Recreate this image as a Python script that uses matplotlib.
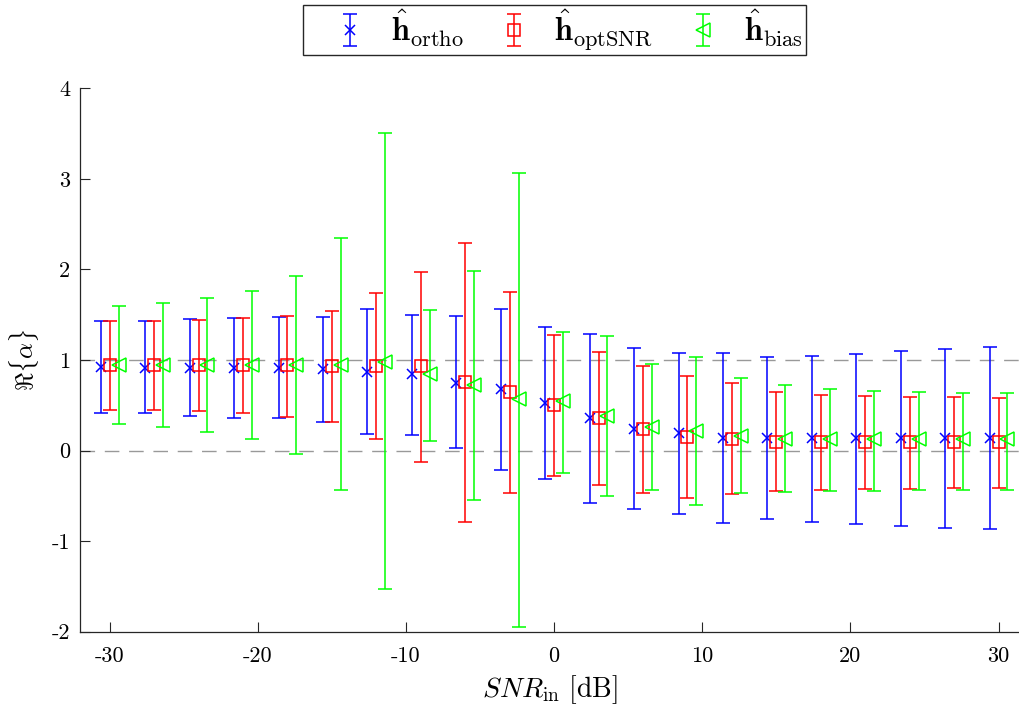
import numpy as np
import matplotlib
matplotlib.use("Agg")
import matplotlib.pyplot as plt

plt.rcParams['font.family'] = ['cmr10', 'DejaVu Serif']
plt.rcParams['mathtext.fontset'] = 'cm'
plt.rcParams['axes.unicode_minus'] = False

snr = [-30, -27, -24, -21, -18, -15, -12, -9, -6, -3, 0, 3, 6, 9, 12, 15, 18, 21, 24, 27, 30]

ortho_mean = [0.92, 0.915, 0.915, 0.91, 0.91, 0.90, 0.865, 0.84, 0.75, 0.675, 0.53, 0.355, 0.24, 0.19, 0.14,
              0.14, 0.135, 0.135, 0.135, 0.135, 0.135]
ortho_upper = [1.43, 1.43, 1.45, 1.465, 1.47, 1.48, 1.56, 1.495, 1.49, 1.56, 1.365, 1.29, 1.13, 1.077, 1.077,
               1.033, 1.044, 1.07, 1.095, 1.12, 1.146]
ortho_lower = [0.42, 0.41, 0.385, 0.365, 0.355, 0.31, 0.18, 0.175, 0.025, -0.21, -0.31, -0.58, -0.65, -0.70, -0.80,
               -0.76, -0.79, -0.81, -0.83, -0.85, -0.87]

opt_mean = [0.945, 0.945, 0.945, 0.945, 0.945, 0.93, 0.935, 0.93, 0.755, 0.645, 0.50, 0.36, 0.235, 0.155, 0.13,
            0.10, 0.10, 0.10, 0.10, 0.10, 0.10]
opt_upper = [1.43, 1.43, 1.44, 1.46, 1.49, 1.545, 1.74, 1.975, 2.29, 1.75, 1.28, 1.09, 0.93, 0.825, 0.75,
             0.65, 0.615, 0.60, 0.593, 0.586, 0.582]
opt_lower = [0.45, 0.45, 0.435, 0.41, 0.375, 0.31, 0.13, -0.13, -0.79, -0.47, -0.285, -0.375, -0.465, -0.52, -0.48,
             -0.447, -0.43, -0.425, -0.42, -0.414, -0.41]

bias_mean = [0.95, 0.95, 0.95, 0.95, 0.95, 0.95, 0.98, 0.85, 0.725, 0.565, 0.55, 0.385, 0.255, 0.22, 0.165,
             0.128, 0.125, 0.125, 0.125, 0.125, 0.125]
bias_upper = [1.60, 1.63, 1.68, 1.76, 1.93, 2.35, 3.51, 1.55, 1.98, 3.07, 1.31, 1.27, 0.96, 1.03, 0.80,
              0.72, 0.675, 0.656, 0.65, 0.64, 0.64]
bias_lower = [0.29, 0.26, 0.21, 0.125, -0.04, -0.44, -1.53, 0.106, -0.546, -1.95, -0.25, -0.50, -0.435, -0.60, -0.47,
              -0.458, -0.45, -0.447, -0.44, -0.436, -0.436]

labels = [r"$\hat{\mathbf{h}}_{\mathrm{ortho}}$", r"$\hat{\mathbf{h}}_{\mathrm{optSNR}}$",
          r"$\hat{\mathbf{h}}_{\mathrm{bias}}$"]
x_ticks = [-30, -20, -10, 0, 10, 20, 30]
x_ticklabels = ["-30", "-20", "-10", "0", "10", "20", "30"]
y_ticks = [-2, -1, 0, 1, 2, 3, 4]
y_ticklabels = ["-2", "-1", "0", "1", "2", "3", "4"]

fig = plt.figure(figsize=(10.2, 7.09), dpi=100)
ax = fig.add_axes([80 / 1020, (709 - 631.7) / 709, 940 / 1020, (631.7 - 88.3) / 709])

for yv in (0, 1):
    ax.axhline(yv, color='0.6', lw=1.0, ls=(0, (10.5, 7)), zorder=1)

snr_arr = np.array(snr, dtype=float)
series = [
    (ortho_mean, ortho_upper, ortho_lower, -0.6, (0, 0, 1), 'x', 7),
    (opt_mean, opt_upper, opt_lower, 0.0, (1, 0, 0), 's', 8.5),
    (bias_mean, bias_upper, bias_lower, 0.6, (0, 1, 0), '<', 9.5),
]
for (m, up, lo, off, col, mk, ms), lab in zip(series, labels):
    m = np.array(m); up = np.array(up); lo = np.array(lo)
    ax.errorbar(snr_arr + off, m, yerr=[m - lo, up - m], fmt=mk, color=col, ecolor=col,
                markerfacecolor='none' if mk != 'x' else col, markeredgecolor=col,
                markersize=ms, markeredgewidth=1.1, elinewidth=1.1, capsize=5, capthick=1.1,
                label=lab, zorder=2)

ax.set_xlim(-32.0, 31.45)
ax.set_ylim(-2, 4)
ax.set_xticks(x_ticks)
ax.set_xticklabels(x_ticklabels)
ax.set_yticks(y_ticks)
ax.set_yticklabels(y_ticklabels)
ax.tick_params(direction='in', length=7, width=0.8, labelsize=16, pad=11, color='0.15')
ax.tick_params(axis='y', pad=7)
for s in ('top', 'right'):
    ax.spines[s].set_visible(False)
for s in ('left', 'bottom'):
    ax.spines[s].set_color('0.15')
    ax.spines[s].set_linewidth(0.9)

ax.set_xlabel(r"$SNR_{\mathrm{in}}\ [\mathrm{dB}]$", fontsize=20, labelpad=5)
ax.set_ylabel(r"$\Re\{\alpha\}$", fontsize=18, labelpad=8)

leg = fig.legend(loc='center', bbox_to_anchor=(554.5 / 1020, 1 - 30 / 709), ncol=3, fontsize=23,
                 frameon=True, fancybox=False, edgecolor='0.15', framealpha=1,
                 handlelength=2.75, handletextpad=-0.1, columnspacing=0.2, borderpad=0.08,
                 borderaxespad=0)
leg.get_frame().set_linewidth(1.0)

fig.savefig("out.png", dpi=100)
